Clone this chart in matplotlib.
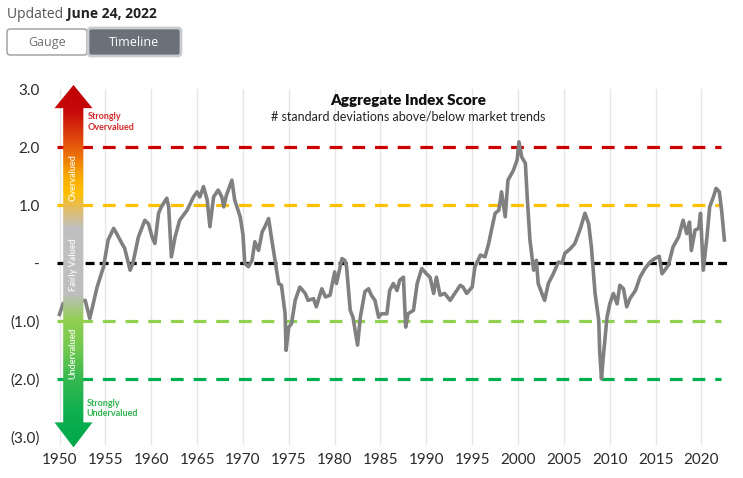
import numpy as np
import matplotlib
matplotlib.use('Agg')
import matplotlib.pyplot as plt
from matplotlib.colors import LinearSegmentedColormap
from matplotlib.patches import Polygon, FancyBboxPatch

plt.rcParams['font.family'] = ['Lato', 'DejaVu Sans']

# data
years = [1950.0, 1950.4, 1952.8, 1953.3, 1954.1, 1954.8, 1955.3, 1955.9, 1956.2, 1956.8,
         1957.1, 1957.7, 1958.0, 1958.6, 1959.3, 1959.7, 1960.1, 1960.4, 1960.8, 1961.1,
         1961.7, 1961.9, 1962.2, 1962.6, 1963.1, 1963.9, 1964.6, 1965.0, 1965.3, 1965.7,
         1966.1, 1966.4, 1966.8, 1967.3, 1967.7, 1967.9, 1968.2, 1968.8, 1969.1, 1969.7,
         1970.0, 1970.2, 1970.6, 1971.0, 1971.3, 1971.7, 1972.1, 1972.4, 1972.8, 1973.1,
         1973.5, 1973.9, 1974.2, 1974.6, 1974.7, 1975.0, 1975.3, 1975.7, 1976.2, 1976.8,
         1977.1, 1977.7, 1978.0, 1978.6, 1979.0, 1979.5, 1980.0, 1980.2, 1980.8, 1981.1,
         1981.3, 1981.7, 1982.0, 1982.5, 1982.8, 1983.3, 1983.7, 1984.0, 1984.4, 1984.8,
         1985.1, 1985.7, 1986.0, 1986.4, 1986.8, 1987.1, 1987.5, 1987.75, 1988.0, 1988.6,
         1989.0, 1989.5, 1990.0, 1990.4, 1990.8, 1991.1, 1991.5, 1992.0, 1992.6, 1993.1,
         1993.7, 1994.0, 1994.4, 1995.0, 1995.3, 1995.9, 1996.4, 1996.8, 1997.1, 1997.5,
         1997.9, 1998.2, 1998.6, 1998.9, 1999.5, 1999.9, 2000.1, 2000.4, 2000.8, 2001.0,
         2001.3, 2001.7, 2002.0, 2002.2, 2002.6, 2002.9, 2003.3, 2003.85, 2004.4, 2004.8,
         2005.1, 2005.7, 2006.2, 2006.8, 2007.3, 2007.7, 2008.0, 2008.4, 2008.8, 2008.9,
         2009.1, 2009.3, 2009.7, 2010.0, 2010.4, 2010.8, 2011.1, 2011.5, 2011.85, 2012.2,
         2012.8, 2013.3, 2013.85, 2014.4, 2014.9, 2015.4, 2015.7, 2016.0, 2016.4, 2016.9,
         2017.5, 2018.0, 2018.4, 2018.7, 2018.9, 2019.3, 2019.7, 2019.9, 2020.2, 2020.6,
         2020.9, 2021.3, 2021.6, 2021.95, 2022.2, 2022.5]
scores = [-0.88, -0.69, -0.64, -0.95, -0.41, -0.06, 0.40, 0.60, 0.52, 0.34,
          0.26, -0.12, 0.00, 0.45, 0.74, 0.68, 0.45, 0.34, 0.86, 0.97,
          1.12, 0.97, 0.11, 0.45, 0.74, 0.91, 1.14, 1.23, 1.14, 1.32,
          1.09, 0.63, 1.14, 1.26, 1.14, 0.97, 1.17, 1.43, 1.09, 0.80,
          0.50, 0.00, -0.06, 0.05, 0.37, 0.22, 0.54, 0.63, 0.77, 0.45,
          0.05, -0.35, -0.38, -0.87, -1.50, -1.10, -1.04, -0.64, -0.41, -0.52,
          -0.64, -0.61, -0.75, -0.44, -0.58, -0.55, -0.15, -0.35, 0.08, 0.05,
          -0.06, -0.81, -0.93, -1.41, -0.93, -0.49, -0.44, -0.55, -0.64, -0.93,
          -0.87, -0.87, -0.47, -0.35, -0.47, -0.29, -0.24, -1.10, -0.87, -0.81,
          -0.35, -0.09, -0.18, -0.24, -0.52, -0.24, -0.55, -0.52, -0.64, -0.52,
          -0.38, -0.41, -0.52, -0.41, -0.06, 0.14, 0.11, 0.34, 0.57, 0.86,
          0.91, 1.23, 0.80, 1.43, 1.60, 1.78, 2.09, 1.83, 1.72, 1.14,
          0.40, -0.12, 0.05, -0.35, -0.52, -0.64, -0.35, -0.18, 0.02, 0.00,
          0.17, 0.25, 0.34, 0.60, 0.86, 0.68, 0.28, -0.52, -0.98, -1.50,
          -1.99, -1.61, -0.93, -0.70, -0.52, -0.70, -0.38, -0.44, -0.75, -0.61,
          -0.47, -0.24, -0.09, 0.02, 0.08, 0.12, -0.18, -0.12, -0.03, 0.28,
          0.45, 0.74, 0.51, 0.71, 0.22, 0.57, 0.60, 0.86, -0.12, 0.45,
          0.97, 1.14, 1.29, 1.23, 0.91, 0.40]

levels = [2, 1, 0, -1, -2]
level_colors = ['#cc0000', '#ffc000', '#000000', '#92d050', '#00b050']
ytick_vals = [3, 2, 1, 0, -1, -2, -3]
ytick_text = ['3.0', '2.0', '1.0', '-', '(1.0)', '(2.0)', '(3.0)']
xtick_vals = list(range(1950, 2021, 5))

fig = plt.figure(figsize=(7.43, 4.78), dpi=100)
ax = fig.add_axes([0.0764, 0.069, 0.9084, 0.7448])
ax.set_xlim(1949.7, 2023.3)
ax.set_ylim(-3.13, 3.0)

for x in xtick_vals:
    ax.axvline(x, color='#e6e6e6', lw=1, zorder=0)

for lv, c in zip(levels, level_colors):
    if lv == 0:
        ax.plot([1949.7, 2023.0], [lv, lv], color=c, lw=2.3, dashes=(2.8, 1.6), zorder=2)
    else:
        ax.plot([1949.7, 2022.1], [lv, lv], color=c, lw=2.3, dashes=(4.0, 3.1), zorder=2)

ax.plot(years, scores, color='#808080', lw=2.6, zorder=3, solid_joinstyle='round')

ax.set_xticks(xtick_vals)
ax.set_yticks(ytick_vals, ytick_text)
ax.tick_params(axis='both', length=0, labelsize=11, labelcolor='#2a2a2a')
ax.tick_params(axis='y', pad=12)
ax.tick_params(axis='x', pad=6)
for s in ax.spines.values():
    s.set_visible(False)

ax.text(1988.0, 2.81, 'Aggregate Index Score', ha='center', va='center',
        fontsize=11, fontweight='heavy', color='#111111')
ax.text(1988.0, 2.52, '# standard deviations above/below market trends', ha='center',
        va='center', fontsize=9, color='#222222')

# overlay in pixel coords for the arrow and the page header
ov = fig.add_axes([0, 0, 1, 1], zorder=5)
ov.set_xlim(0, 743)
ov.set_ylim(0, 478)
ov.axis('off')
ov.patch.set_alpha(0)


def px(x, y):
    return tuple(ax.transData.transform((x, y)))


sx0, sx1 = 1950.4, 1952.6
hx0, hx1 = 1949.45, 1953.6
top, tb, bb, bot = 3.07, 2.67, -2.74, -3.17
xm = (hx0 + hx1) / 2
pts = [px(xm, top), px(hx1, tb), px(sx1, tb), px(sx1, bb), px(hx1, bb), px(xm, bot),
       px(hx0, bb), px(sx0, bb), px(sx0, tb), px(hx0, tb)]
arrow = Polygon(pts, closed=True, fc='none', ec='none')
ov.add_patch(arrow)

stops = [(0.0, '#c00000'), (0.075, '#c80a0a'), (0.171, '#e65a0c'), (0.251, '#f8a800'),
         (0.30, '#ffc000'), (0.34, '#e4bc60'), (0.396, '#c0c0c0'), (0.58, '#bebebe'),
         (0.652, '#92d050'), (0.732, '#70c84f'), (0.812, '#38b94f'), (0.908, '#0db04f'),
         (1.0, '#00a84a')]
cmap = LinearSegmentedColormap.from_list('valuation', stops)
grad = np.linspace(0, 1, 400).reshape(-1, 1)
l, t = px(hx0, top)
r, b = px(hx1, bot)
im = ov.imshow(grad, cmap=cmap, extent=[l, r, b, t], aspect='auto', origin='upper',
               interpolation='bilinear')
im.set_clip_path(arrow)
ov.set_xlim(0, 743)
ov.set_ylim(0, 478)

for label, yv in [('Overvalued', 1.47), ('Fairly Valued', -0.03), ('Undervalued', -1.55)]:
    ov.text(*px(1951.5, yv), label, rotation=90, ha='center', va='center',
            fontsize=6.5, fontweight='bold', color='white', alpha=0.85)
ov.text(*px(1953.05, 2.43), 'Strongly\nOvervalued', ha='left', va='center',
        fontsize=6.5, fontweight='bold', color='#d42a2a', linespacing=1.2)
ov.text(*px(1952.95, -2.5), 'Strongly\nUndervalued', ha='left', va='center',
        fontsize=6.5, fontweight='bold', color='#2eb34f', linespacing=1.2)

# header
hdr = ov.text(7, 464, 'Updated ', ha='left', va='center', fontsize=10,
              color='#555555', family=['Open Sans', 'DejaVu Sans'])
fig.canvas.draw()
bb_hdr = hdr.get_window_extent(renderer=fig.canvas.get_renderer())
ov.text(bb_hdr.x1, 464, 'June 24, 2022', ha='left', va='center', fontsize=10,
        fontweight='bold', color='#222222', family=['Open Sans', 'DejaVu Sans'])

ov.add_patch(FancyBboxPatch((7, 478 - 55), 80, 26, boxstyle='round,pad=0,rounding_size=3',
                            fc='white', ec='#9a9a9a', lw=1))
ov.add_patch(FancyBboxPatch((88, 478 - 56), 93, 28, boxstyle='round,pad=0,rounding_size=3',
                            fc='#6b7179', ec='#c8ccd0', lw=2))
ov.text(47, 478 - 42, 'Gauge', ha='center', va='center', fontsize=9, color='#707070',
        family=['Open Sans', 'DejaVu Sans'])
ov.text(134, 478 - 42, 'Timeline', ha='center', va='center', fontsize=9, color='white',
        family=['Open Sans', 'DejaVu Sans'])

fig.savefig('out.png', dpi=100)
